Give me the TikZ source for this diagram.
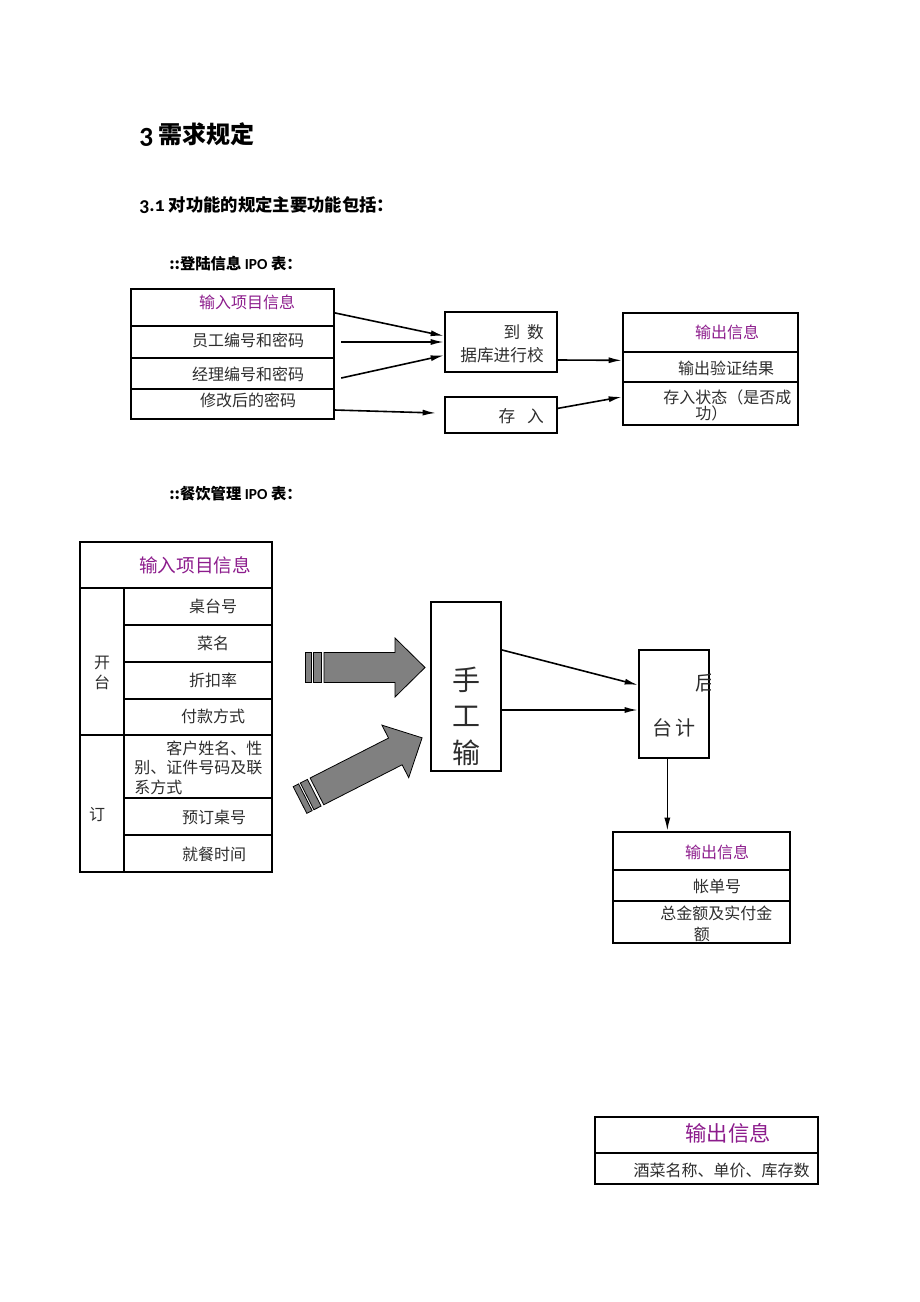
\documentclass[tikz,border=0pt]{standalone}
\usepackage{fontspec}
\setmainfont{Noto Sans CJK SC}
\newfontfamily\latinfont[Numbers=OldStyle]{Carlito}
\usetikzlibrary{arrows.meta}
\definecolor{ipopurple}{RGB}{140,28,140}
\definecolor{txtgray}{RGB}{45,45,45}
\definecolor{arrowgray}{RGB}{128,128,128}

\begin{document}
\begin{tikzpicture}[x=0.75pt, y=-0.75pt,
	cell/.style={draw, line width=1.5pt, inner sep=0pt},
	txt/.style={inner sep=0pt, text=txtgray, font=\fontsize{12}{15}\selectfont},
	headtxt/.style={txt, text=ipopurple},
	heading/.style={inner sep=0pt, anchor=west},
	link/.style={-{Latex[length=10pt, width=4.5pt]}, line width=1.2pt},
	bigarrow/.style={fill=arrowgray, draw=black, line width=0.6pt}]

\useasboundingbox (0,0) rectangle (920,1302);

% headings
\node[heading, font=\fontsize{18}{20}\selectfont\bfseries] 	(h1) at (139,135) {{\latinfont\fontsize{21}{22}\selectfont 3} 需求规定};
\node[heading, font=\fontsize{13}{15}\selectfont\bfseries] 	(h2) at (139,205) {{\latinfont\fontsize{15}{16}\selectfont 3.1} 对功能的规定主要功能包括：};
\node[heading, font=\fontsize{11.5}{14}\selectfont\bfseries] (h3) at (169,264) {::登陆信息 {\latinfont IPO} 表：};
\node[heading, font=\fontsize{11.5}{14}\selectfont\bfseries] (h4) at (169,494) {::餐饮管理 {\latinfont IPO} 表：};

% login IPO
\node[cell, minimum width=152.25pt, minimum height=27.75pt] (ih) at (232,307.5) {};
\node[cell, minimum width=152.25pt, minimum height=24pt] 	(i1) at (232,342) 	{};
\node[cell, minimum width=152.25pt, minimum height=23.25pt] (i2) at (232,373.5) {};
\node[cell, minimum width=152.25pt, minimum height=22.5pt] 	(i3) at (232,404) 	{};
\node[headtxt] 	(tih) at (247,302) {输入项目信息};
\node[txt] 		(ti1) at (248,340) {员工编号和密码};
\node[txt] 		(ti2) at (248,374) {经理编号和密码};
\node[txt] 		(ti3) at (248,400) {修改后的密码};

\node[cell, minimum width=84pt, minimum height=45pt] 	(chk) at (501,342) {};
\node[cell, minimum width=84pt, minimum height=27pt] 	(sav) at (501,415) {};
\node[txt, anchor=east, font=\fontsize{12.5}{15}\selectfont] (tc1) at (544,332) {到\hspace{0.4em}数};
\node[txt, anchor=east, font=\fontsize{12.5}{15}\selectfont] (tc2) at (544,355) {据库进行校};
\node[txt, anchor=east, font=\fontsize{12.5}{15}\selectfont] (ts)  at (544,416) {存\hspace{0.7em}入};

\node[cell, minimum width=131.25pt, minimum height=29.25pt] (oh) at (710.5,332.5) {};
\node[cell, minimum width=131.25pt, minimum height=22.5pt] 	(o1) at (710.5,367) 	{};
\node[cell, minimum width=131.25pt, minimum height=32.25pt] (o2) at (710.5,403.5) {};
\node[headtxt] 	(toh) at (727,332) {输出信息};
\node[txt] 		(to1) at (726,368) {输出验证结果};
\node[txt, anchor=west, align=left, font=\fontsize{12}{12}\selectfont] (to2) at (663,405) {存入状态（是否成\\\hspace*{2em}功）};

\path[link]
	([yshift=-4pt]ih.east) 				edge ([yshift=4.5pt]chk.west)
	([xshift=5pt]i1.east) 				edge (chk.west)
	([xshift=5pt, yshift=-3.4pt]i2.east) edge ([yshift=-10pt]chk.west)
	([yshift=-4.5pt]i3.east) 			edge ([xshift=-6pt, yshift=1.5pt]sav.west)
	([yshift=-13.5pt]chk.east) 			edge ([yshift=5pt]o1.west)
	([yshift=5pt]sav.east) 				edge ([yshift=5pt]o2.west)
;

% catering IPO
\node[cell, minimum width=144pt, minimum height=34.5pt] 	(mh) at (176,565) 	{};
\node[cell, minimum width=33pt, minimum height=110.25pt] 	(kt) at (102,661.5) {};
\node[cell, minimum width=33pt, minimum height=102.75pt] 	(yd) at (102,803.5) {};
\node[cell, minimum width=111pt, minimum height=27.75pt] 	(m1) at (198,606.5) {};
\node[cell, minimum width=111pt, minimum height=27.75pt] 	(m2) at (198,643.5) {};
\node[cell, minimum width=111pt, minimum height=27.75pt] 	(m3) at (198,680.5) {};
\node[cell, minimum width=111pt, minimum height=27pt] 		(m4) at (198,717) 	{};
\node[cell, minimum width=111pt, minimum height=47.25pt] 	(m5) at (198,766.5) {};
\node[cell, minimum width=111pt, minimum height=27.75pt] 	(m6) at (198,816.5) {};
\node[cell, minimum width=111pt, minimum height=27.75pt] 	(m7) at (198,853.5) {};

\node[headtxt, font=\fontsize{14}{16}\selectfont] (tmh) at (195,565) {输入项目信息};
\node[txt, align=center] 	(tkt) at (102,673) {开\\台};
\node[txt] 					(tyd) at (97,815) 	{订};
\node[txt] 					(tm1) at (213,606) 	{桌台号};
\node[txt] 					(tm2) at (213,643) 	{菜名};
\node[txt] 					(tm3) at (213,680) 	{折扣率};
\node[txt] 					(tm4) at (213,716) 	{付款方式};
\node[txt, anchor=west, align=left, font=\fontsize{12}{14.6}\selectfont] (tm5) at (134,767.5) {\hspace*{2em}客户姓名、性\\别、证件号码及联\\系方式};
\node[txt] 					(tm6) at (214,817) 	{预订桌号};
\node[txt] 					(tm7) at (214,854) 	{就餐时间};

% block arrows
\begin{scope}[shift={(305,667.5)}]
	\filldraw[bigarrow] (0,-15) rectangle (6,15) (8,-15) rectangle (16,15);
	\filldraw[bigarrow] (19,-15) -- (90,-15) -- (90,-29.5) -- (120,0) -- (90,29.5) -- (90,15) -- (19,15) -- cycle;
\end{scope}
\begin{scope}[shift={(300,800)}, rotate=27]
	\filldraw[bigarrow] (0,-15) rectangle (6,15) (8,-15) rectangle (16,15);
	\filldraw[bigarrow] (19,-15) -- (107,-15) -- (107,-29.5) -- (137,0) -- (107,29.5) -- (107,15) -- (19,15) -- cycle;
\end{scope}

\node[cell, minimum width=52.5pt, minimum height=126.75pt] 	(sg) at (466,686.5) {};
\node[txt, align=center, font=\fontsize{21}{27.4}\selectfont] (tsg) at (466,716) {手\\工\\输};

\node[cell, minimum width=52.5pt, minimum height=81pt] 		(ht) at (674,704) {};
\node[txt, font=\fontsize{15}{18}\selectfont] (tht) at (674,728) {台\hspace{0.15em}计};
\begin{scope}
	\clip (ht.north west) rectangle (ht.south east);
	\node[txt, font=\fontsize{15}{18}\selectfont] (thh) at (705,683) {后};
\end{scope}

\node[cell, minimum width=132.75pt, minimum height=28.5pt] 	(p0) at (701.5,851) 	{};
\node[cell, minimum width=132.75pt, minimum height=23.25pt] (p1) at (701.5,885.5) {};
\node[cell, minimum width=132.75pt, minimum height=31.5pt] 	(p2) at (701.5,922) 	{};
\node[headtxt] 	(tp0) at (717,852) {输出信息};
\node[txt] 		(tp1) at (717,886) {帐单号};
\node[txt, anchor=west, align=left, font=\fontsize{12}{15.75}\selectfont] (tp2) at (660,923.5) {总金额及实付金\\\hspace*{2.1em}额};

\path[link]
	([yshift=27.4pt]sg.east) 	edge ([yshift=14.25pt]ht.west)
	([yshift=-17.6pt]sg.east) 	edge ([yshift=-4.5pt]ht.west)
	([xshift=-5pt]ht.south) 	edge ([xshift=-5pt]ht.south |- p0.north)
;

% stock output
\node[cell, minimum width=167.25pt, minimum height=27pt] 	(q0) at (706.5,1135) 	{};
\node[cell, minimum width=167.25pt, minimum height=23.25pt] (q1) at (706.5,1168.5) {};
\node[headtxt, font=\fontsize{16}{18}\selectfont] (tq0) at (728,1133) {输出信息};
\node[txt] 		(tq1) at (721.5,1170) {酒菜名称、单价、库存数};

\end{tikzpicture}
\end{document}
